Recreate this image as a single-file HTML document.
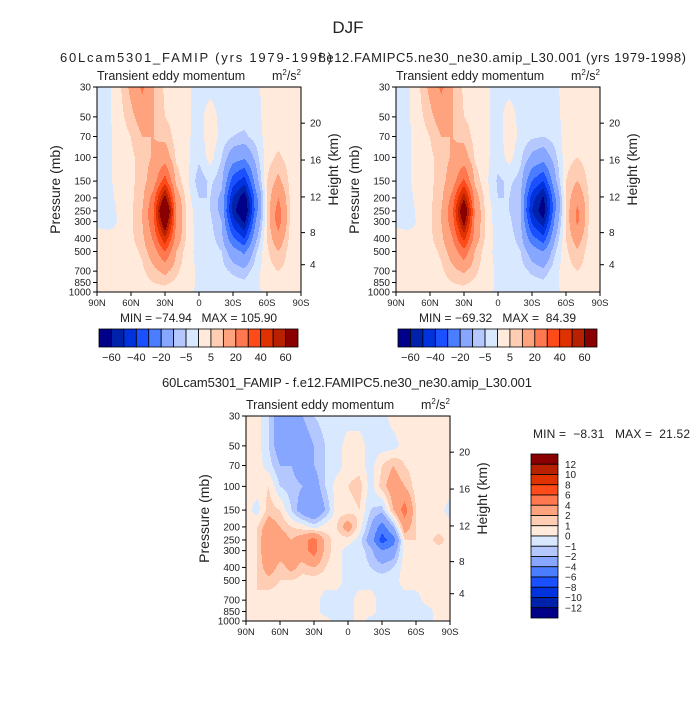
<!DOCTYPE html>
<html><head><meta charset="utf-8"><style>
html,body{margin:0;padding:0;background:#fff}
svg text{font-family:"Liberation Sans",sans-serif;fill:#222;white-space:pre}
</style></head><body>
<svg id="s" width="696" height="707" xmlns="http://www.w3.org/2000/svg">
<text x="348" y="33" font-size="17" text-anchor="middle">DJF</text>
<text x="60" y="62" font-size="13" textLength="272">60Lcam5301_FAMIP (yrs 1979-1998)</text>
<text x="318" y="62" font-size="13" textLength="368">f.e12.FAMIPC5.ne30_ne30.amip_L30.001 (yrs 1979-1998)</text>
<text x="347" y="387" font-size="13" text-anchor="middle" textLength="370">60Lcam5301_FAMIP - f.e12.FAMIPC5.ne30_ne30.amip_L30.001</text>
<g id="g"></g>
</svg>
<script>
const lats=[90,80,70,60,50,40,30,20,10,0,-10,-20,-30,-40,-50,-60,-70,-80,-90];
const plevs=[30,50,70,100,150,200,250,300,400,500,700,850,1000];
const ptickLabels=[30,50,70,100,150,200,250,300,400,500,700,850,1000];
const kmTicks=[4,8,12,16,20];
const latTicks=[90,60,30,0,-30,-60,-90];
const latLabels=["90N","60N","30N","0","30S","60S","90S"];
const levelsA=[-60,-50,-40,-30,-20,-10,-5,0,5,10,20,30,40,50,60];
const levelsD=[-12,-10,-8,-6,-4,-2,-1,0,1,2,4,6,8,10,12];
const colors=["#000088","#0022aa","#0033dd","#1a50ff","#4a7dff","#86a6ff","#b4c8ff","#d8e8ff","#ffeadc","#ffcdb4","#ffa27e","#ff7850","#ff4a1a","#e03200","#b82000","#8a0000"];
const field1=[
[-2,-1,4,12,22,10,4,3,1,-2,-2,-3,-3,-3,-2,3,3,3,1],
[-2,-1,3,8,14,10,5,3,1,-2,3,-2,-3,-3,-2,2,3,3,1],
[-2,-1,2,5,10,10,8,3,1,-3,4,-2,-5,-6,-3,2,3,3,1],
[-2,-1,2,4,7,11,15,4,1,-4,2,-5,-15,-18,-8,3,6,3,1],
[-2,-1,2,4,7,15,35,8,1,-8,-4,-8,-35,-45,-15,5,12,4,1],
[-2,-2,2,4,8,25,65,15,2,-5,-5,-12,-50,-68,-25,5,20,5,1],
[-2,-5,2,4,10,30,90,18,3,-3,-5,-12,-55,-75,-25,5,25,5,1],
[-1,-3,1,4,10,28,75,18,3,-3,-4,-10,-45,-62,-20,5,25,5,1],
[2,3,1,4,8,22,48,15,3,-2,-3,-8,-28,-40,-12,5,16,4,1],
[3,2,1,3,6,15,30,10,2,-2,-2,-5,-15,-22,-6,4,10,3,1],
[2,2,1,2,4,8,12,6,2,-1,-1,-3,-6,-8,-2,3,5,3,2],
[1,1,2,2,3,5,6,4,2,-1,-1,-2,-3,-4,-1,2,3,3,3],
[1,1,5,1,2,3,3,2,1,-1,-1,-2,-4,-5,-1,1,2,2,1]];
const field2=[
[-2,-1,4,12,22,10,4,3,1,-2,-2,-3,-3,-3,-2,3,3,3,1],
[-2,-1,3,8,14,10,5,3,1,-2,3,-2,-3,-3,-2,2,3,3,1],
[-2,-1,2,5,10,10,8,3,1,-3,4,-2,-4,-5,-3,2,3,3,1],
[-2,-1,2,4,7,11,14,4,1,-3,2,-4,-12,-15,-7,3,5,3,1],
[-2,-1,2,4,7,15,32,8,1,-6,-4,-7,-30,-40,-13,5,10,4,1],
[-2,-2,2,4,8,24,58,14,2,-5,-5,-10,-45,-62,-22,5,17,5,1],
[-2,-4,2,4,10,28,78,16,3,-3,-5,-10,-50,-68,-22,5,22,5,1],
[-1,-3,1,4,10,26,66,16,3,-3,-4,-9,-42,-57,-18,5,22,5,1],
[2,3,1,4,8,20,43,14,3,-2,-3,-7,-26,-36,-11,5,14,4,1],
[3,2,1,3,6,14,27,9,2,-2,-2,-5,-14,-20,-6,4,9,3,1],
[2,2,1,2,4,8,11,6,2,-1,-1,-3,-6,-8,-2,3,5,3,2],
[1,1,2,2,3,5,6,4,2,-1,-1,-2,-3,-4,-1,2,3,3,3],
[1,1,4,1,2,3,3,2,1,-1,-1,-2,-4,-5,-1,1,2,2,1]];
const field3=[
[0.5,0.5,-1,-3,-3,-2,-1,-0.5,-0.5,-0.5,-0.5,-0.5,-0.5,0.5,0.5,0.5,0.5,0.5,0.5],
[0.5,0.5,-1,-3,-3,-3,-2,-1,-0.5,0.5,0.5,-0.5,-0.5,-0.5,0.5,0.5,0.5,0.5,0.5],
[0.5,0.5,-0.5,-2,-2,-3,-2,-1,-0.5,0.5,0.5,-0.5,1,2,1,0.5,0.5,0.5,0.5],
[0.5,0.5,1,-1,-1.5,-2,-3,-1,0.5,1,1.5,-0.5,1.5,3,2,0.5,0.5,0.5,0.5],
[0.5,-0.5,1.5,1,-1,-3,-4,-2,0.5,0.5,1,-1,-1.5,2,5,1,0.5,0.5,-0.5],
[0.5,1,3,2,1,0.5,-0.5,0.5,1,3,0.5,-2,-5,-2,3,1,0.5,0.5,0.5],
[0.5,1,4,3,2,3,5,1.5,0.5,0.5,-0.5,-3,-7,-5,1,1,0.5,1.5,0.5],
[0.5,1,4,3,2,3,5,1.5,0.5,-0.5,-0.5,-1.5,-4,-3,0.5,1,0.5,0.5,0.5],
[0.5,1,3,1.5,2.5,1.5,2,1,0.5,-0.5,-0.5,-1,-1.5,-1,0.5,0.5,0.5,0.5,0.5],
[0.5,1,1.5,1,1,0.5,0.5,0.5,0.5,-0.5,-0.5,-0.5,-0.5,-0.5,0.5,0.5,0.5,0.5,0.5],
[0.5,1,0.5,0.5,0.5,0.5,0.5,-0.5,-0.5,-0.5,0.5,0.5,-0.5,-0.5,-0.5,-0.5,0.5,0.5,0.5],
[0.5,1,0.5,0.5,0.5,0.5,0.5,-0.5,-0.5,-0.5,0.5,0.5,-0.5,-0.5,-0.5,-0.5,-0.5,0.5,0.5],
[0.5,1,0.5,0.5,0.5,0.5,0.5,0.5,-0.5,-0.5,0.5,-0.5,-0.5,-0.5,-0.5,-0.5,-0.5,0.5,0.5]];

const NS="http://www.w3.org/2000/svg";
const G=document.getElementById('g');
function mk(tag,attrs,parent){const e=document.createElementNS(NS,tag);for(const k in attrs)e.setAttribute(k,attrs[k]);(parent||G).appendChild(e);return e;}
function txt(x,y,s,size,anchor,parent){const t=mk('text',{x:x,y:y,'font-size':size,'text-anchor':anchor||'start'},parent);t.textContent=s;return t;}
function colorIdx(v,levels){let i=0;while(i<levels.length&&v>=levels[i])i++;return i;}
function kmToP(z){const m=z*1000;return m<=11000?1013.25*Math.pow(1-2.25577e-5*m,5.25588):226.32*Math.exp(-(m-11000)/6341.6);}

function panel(id,x0,y0,w,h,data,levels,opts){
  const g=mk('g',{});
  
  
  const L0=Math.log(30),L1=Math.log(1000);
  const yOf=p=>y0+(Math.log(p)-L0)/(L1-L0)*h;
  const xOf=lat=>x0+(90-lat)/180*w;
  const lp=plevs.map(p=>Math.log(p));
  function val(px,py){
    const lat=90-(px/w)*180;let c=(90-lat)/10;c=Math.max(0,Math.min(lats.length-1.0001,c));
    const ci=Math.floor(c),cf=c-ci;
    const l=L0+(py/h)*(L1-L0);let r=0;while(r<lp.length-2&&l>lp[r+1])r++;
    let rf=(l-lp[r])/(lp[r+1]-lp[r]);rf=Math.max(0,Math.min(1,rf));
    const a=data[r][ci]*(1-cf)+data[r][ci+1]*cf,b=data[r+1][ci]*(1-cf)+data[r+1][ci+1]*cf;
    return a*(1-rf)+b*rf;
  }
  const fg=mk('g',{'shape-rendering':'crispEdges'},g);
  
  
  for(let py=0;py<h;py++){
    let start=0,cur=colorIdx(val(0.5,py+0.5),levels);
    for(let px=1;px<=w;px++){
      const c=px<w?colorIdx(val(px+0.5,py+0.5),levels):-1;
      if(c!==cur){mk('rect',{x:x0+start,y:y0+py,width:px-start,height:1,fill:colors[cur]},fg);start=px;cur=c;}
    }
  }
  const fr=mk('rect',{x:x0,y:y0,width:w,height:h,fill:'none',stroke:'#000','stroke-width':1},g);
  
  
  ptickLabels.forEach(p=>{const y=yOf(p);mk('line',{x1:x0-4,x2:x0,y1:y,y2:y,stroke:'#000'},g);
    const t=txt(x0-6,y+3.5,String(p),10,'end',g);
    
    });
  kmTicks.forEach(z=>{const y=yOf(kmToP(z))+1;mk('line',{x1:x0+w,x2:x0+w+4,y1:y,y2:y,stroke:'#000'},g);
    const t=txt(x0+w+9,y+3.5,String(z),10,'start',g);
    
    });
  latTicks.forEach((lat,i)=>{const x=xOf(lat);mk('line',{x1:x,x2:x,y1:y0+h,y2:y0+h+4,stroke:'#000'},g);
    const t=txt(x,y0+h+14,latLabels[i],9.5,'middle',g);
    
    });
  const yl=txt(0,0,'Pressure (mb)',14,'middle',g);
  yl.setAttribute('transform',`translate(${x0-37},${y0+h/2}) rotate(-90)`);
  
  
  const yr=txt(0,0,'Height (km)',14,'middle',g);
  yr.setAttribute('transform',`translate(${x0+w+37},${y0+h/2-20}) rotate(-90)`);
  
  
  const st=txt(x0,y0-7,'Transient eddy momentum',12.5,'start',g);
  
  
  const un=mk('text',{x:x0+w,y:y0-7,'font-size':12.5,'text-anchor':'end'},g);
  un.innerHTML='m<tspan dy="-5" font-size="8">2</tspan><tspan dy="5">/s</tspan><tspan dy="-5" font-size="8">2</tspan>';
  
  
  const mm=txt(opts.mmx,opts.mmy,opts.mm,12,opts.mmAnchor,g);
  mm.setAttribute('textLength',opts.mmw);
  
  
}

function hbar(id,x0,y0,w,h,labels){
  const g=mk('g',{});
  
  
  const bw=w/colors.length;
  colors.forEach((c,i)=>{const r=mk('rect',{x:x0+i*bw,y:y0,width:bw,height:h,fill:c,stroke:'#000','stroke-width':0.8},g);
    
    });
  labels.forEach((s,i)=>{const t=txt(x0+(2*i+1)*bw,y0+h+14,s,11,'middle',g);
    
    });
}
function vbar(id,x0,y0,w,h,levels){
  const g=mk('g',{});
  
  
  const bh=h/colors.length;
  colors.slice().reverse().forEach((c,i)=>{const r=mk('rect',{x:x0,y:y0+i*bh,width:w,height:bh,fill:c,stroke:'#000','stroke-width':0.8},g);
    
    });
  levels.slice().reverse().forEach((v,i)=>{const t=txt(x0+w+7,y0+(i+1)*bh+3.5,(v<0?'\u2212'+(-v):String(v)),10,'start',g);
    
    });
}
const barLabelsA=["\u221260","\u221240","\u221220","\u22125","5","20","40","60"];
panel('panel-model1',97,87,204,205,field1,levelsA,{mm:'MIN = \u221274.94   MAX = 105.90',mmx:120,mmy:322,mmAnchor:'start',mmw:157});
hbar('colorbar-1',99,329,199,18,barLabelsA);
panel('panel-model2',396,87,204,205,field2,levelsA,{mm:'MIN = \u221269.32   MAX =  84.39',mmx:419,mmy:322,mmAnchor:'start',mmw:157});
hbar('colorbar-2',398,329,199,18,barLabelsA);
panel('panel-difference',246,416,204,205,field3,levelsD,{mm:'MIN =  \u22128.31   MAX =  21.52',mmx:533,mmy:438,mmAnchor:'start',mmw:157});
vbar('colorbar-3',531,454,27,164,levelsD);
</script>
</body></html>
